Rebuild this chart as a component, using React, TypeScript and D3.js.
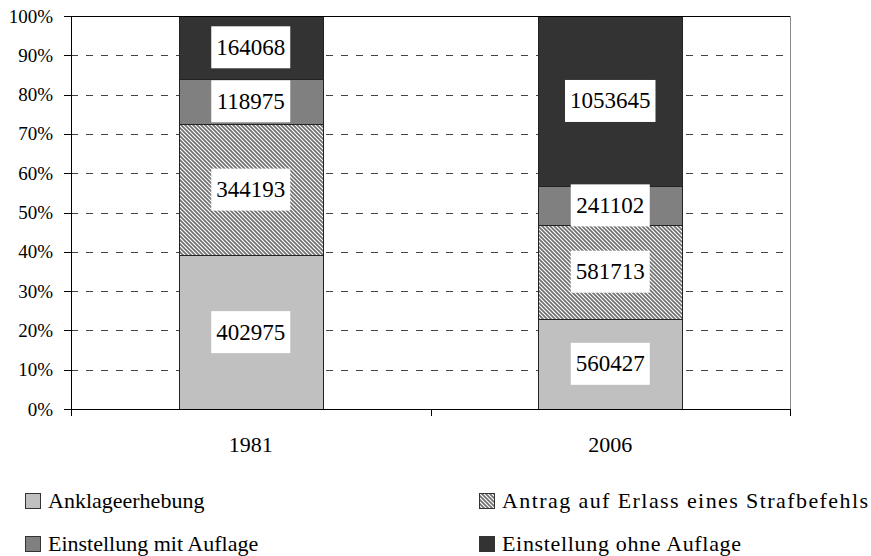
import React from "react";
import * as d3 from "d3";

const categories = ["1981", "2006"];
const seriesNames = [
  "Anklageerhebung",
  "Antrag auf Erlass eines Strafbefehls",
  "Einstellung mit Auflage",
  "Einstellung ohne Auflage",
];
const values1981 = [402975, 344193, 118975, 164068];
const values2006 = [560427, 581713, 241102, 1053645];
const yTickValues = [0, 0.1, 0.2, 0.3, 0.4, 0.5, 0.6, 0.7, 0.8, 0.9, 1];

const W = 871;
const H = 556;
const left = 71;
const right = 790;
const top = 16;
const bottom = 409;
const FONT = "'Liberation Serif', 'Times New Roman', serif";
const fills = ["#C0C0C0", "url(#hatch)", "#808080", "#333333"];
const legendTextLen = [null, 366, null, 239];

export default function App() {
  const rows = categories.map((c, i) => {
    const vals = i === 0 ? values1981 : values2006;
    const r: any = { cat: c };
    seriesNames.forEach((s, j) => (r[s] = vals[j]));
    return r;
  });
  const stack = d3.stack<any>().keys(seriesNames).offset(d3.stackOffsetExpand);
  const series = stack(rows);

  const x = d3
    .scaleBand()
    .domain(categories)
    .range([left, right])
    .paddingInner(0.6)
    .paddingOuter(0.3);
  const y = d3.scaleLinear().domain([0, 1]).range([bottom, top]);
  const step = x.step();
  const catTicks = [left, left + step, right];

  return (
    <svg
      width={W}
      height={H}
      style={{ position: "absolute", left: 0, top: 0, background: "#fff" }}
      fontFamily={FONT}
    >
      <defs>
        <pattern id="hatch" patternUnits="userSpaceOnUse" width={4} height={4}>
          <rect width={4} height={4} fill="#fff" />
          <path
            d="M-1,-1 L5,5 M-1,3 L1,5 M3,-1 L5,1"
            stroke="#6e6e6e"
            strokeWidth={1.6}
          />
        </pattern>
      </defs>
      <rect x={0} y={0} width={W} height={H} fill="#fff" />

      {/* gridlines */}
      {yTickValues.slice(1, -1).map((t) => (
        <line
          key={"g" + t}
          x1={left}
          x2={right}
          y1={Math.round(y(t)) + 0.5}
          y2={Math.round(y(t)) + 0.5}
          stroke="#444"
          strokeDasharray="7,8"
        />
      ))}

      {/* bars */}
      {series.map((s, si) =>
        s.map((d, di) => {
          const cat = categories[di];
          const x0 = Math.round(x(cat)!) + 0.5;
          const bw = Math.round(x.bandwidth());
          const y0 = Math.round(y(d[1])) + 0.5;
          const y1 = Math.round(y(d[0])) + 0.5;
          return (
            <rect
              key={si + "-" + di}
              x={x0}
              y={y0}
              width={bw}
              height={y1 - y0}
              fill={fills[si]}
              stroke="#222"
              strokeWidth={1}
            />
          );
        })
      )}

      {/* data labels */}
      {series.map((s, si) =>
        s.map((d, di) => {
          const cat = categories[di];
          const cx = x(cat)! + x.bandwidth() / 2;
          const cy = y((d[0] + d[1]) / 2);
          const val = (di === 0 ? values1981 : values2006)[si];
          const txt = String(val);
          const bw = txt.length * 11.5 + 10;
          const bh = 42;
          return (
            <g key={"l" + si + "-" + di}>
              <rect x={cx - bw / 2} y={cy - bh / 2} width={bw} height={bh} fill="#fff" />
              <text
                x={cx}
                y={cy + 7.5}
                textAnchor="middle"
                fontSize={23}
                fill="#000"
              >
                {txt}
              </text>
            </g>
          );
        })
      )}

      {/* frame */}
      <line x1={left} x2={right} y1={top + 0.5} y2={top + 0.5} stroke="#000" />
      <line x1={right + 0.5} x2={right + 0.5} y1={top} y2={bottom} stroke="#888" />
      <line x1={left + 0.5} x2={left + 0.5} y1={top} y2={bottom + 7} stroke="#000" />
      <line x1={left} x2={right + 1} y1={bottom + 0.5} y2={bottom + 0.5} stroke="#000" />

      {/* y ticks */}
      {yTickValues.map((t) => (
        <g key={"yt" + t}>
          <line
            x1={left - 7}
            x2={left}
            y1={Math.round(y(t)) + 0.5}
            y2={Math.round(y(t)) + 0.5}
            stroke="#000"
          />
          <text
            x={53}
            y={y(t) + 6.5}
            textAnchor="end"
            fontSize={19}
            fill="#000"
          >
            {Math.round(t * 100) + "%"}
          </text>
        </g>
      ))}

      {/* x ticks */}
      {catTicks.map((cx, i) => (
        <line
          key={"xt" + i}
          x1={Math.round(cx) + 0.5}
          x2={Math.round(cx) + 0.5}
          y1={bottom}
          y2={bottom + 7}
          stroke="#000"
        />
      ))}
      {categories.map((c) => (
        <text
          key={"xl" + c}
          x={x(c)! + x.bandwidth() / 2}
          y={452}
          textAnchor="middle"
          fontSize={22}
          fill="#000"
        >
          {c}
        </text>
      ))}

      {/* legend */}
      {seriesNames.map((s, i) => {
        const col = i % 2;
        const row = Math.floor(i / 2);
        const lx = col === 0 ? 25 : 479;
        const baseY = row === 0 ? 508 : 551;
        const tl = legendTextLen[i];
        return (
          <g key={"lg" + i}>
            <rect
              x={lx + 0.5}
              y={baseY - 15 + 0.5}
              width={15}
              height={15}
              fill={fills[i]}
              stroke="#333"
            />
            <text
              x={lx + 23}
              y={baseY}
              fontSize={22}
              fill="#000"
              {...(tl ? { textLength: tl, lengthAdjust: "spacing" } : {})}
            >
              {s}
            </text>
          </g>
        );
      })}
    </svg>
  );
}
